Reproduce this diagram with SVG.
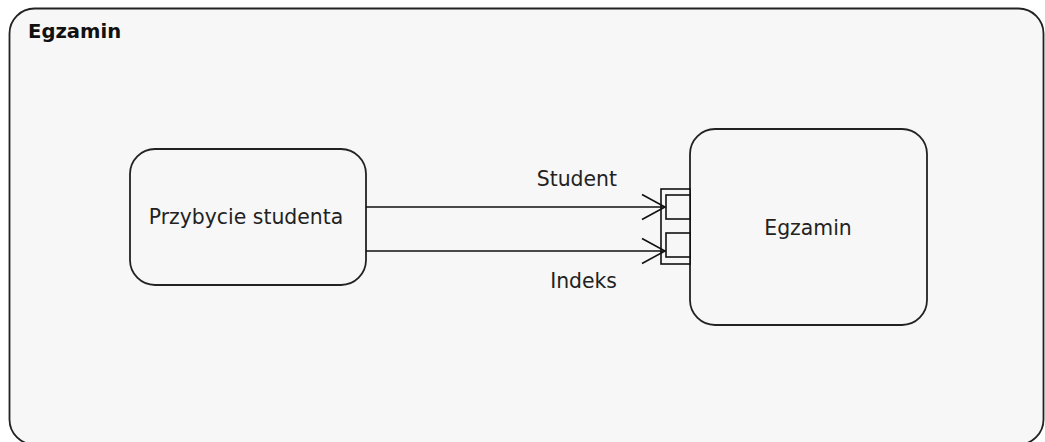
<svg xmlns="http://www.w3.org/2000/svg" width="1045" height="442" viewBox="0 0 1045 442">
  <style>
    .frame { fill: #f7f7f7; stroke: #222; stroke-width: 1.8; }
    .node { fill: #f7f7f7; stroke: #222; stroke-width: 1.8; }
    .port { fill: #f7f7f7; stroke: #111; stroke-width: 1.6; }
    .flow { fill: none; stroke: #111; stroke-width: 1.6; }
    .title { font-family: "DejaVu Sans", sans-serif; font-weight: bold; font-size: 19.6px; fill: #111; }
    .label { font-family: "DejaVu Sans", sans-serif; font-size: 20.4px; fill: #222; }
  </style>
  <defs>
    <marker id="openArrow" markerUnits="userSpaceOnUse" markerWidth="30" markerHeight="30" viewBox="-26 -15 30 30" refX="0" refY="0" orient="auto">
      <path d="M -23 -12.5 L 0 0 L -23 12.5" fill="none" stroke="#111" stroke-width="1.6"/>
    </marker>
  </defs>

  <rect width="1045" height="442" fill="#ffffff"/>

  <!-- activity frame -->
  <g id="frame">
    <rect class="frame" x="9.5" y="8.5" width="1034" height="436" rx="25" ry="25"/>
    <text class="title" x="28" y="38">Egzamin</text>
  </g>

  <!-- source action -->
  <g id="przybycie">
    <rect class="node" x="130" y="149" width="236" height="136" rx="25" ry="25"/>
    <text class="label" x="246" y="224" text-anchor="middle">Przybycie studenta</text>
  </g>

  <!-- target action with its input pins -->
  <g id="egzamin">
    <rect class="node" x="690" y="129" width="237" height="196" rx="25" ry="25"/>
    <text class="label" x="808" y="235" text-anchor="middle">Egzamin</text>
    <rect class="port" x="661" y="189" width="29" height="75"/>
    <rect class="port" x="666" y="195" width="24" height="24"/>
    <rect class="port" x="666" y="233" width="24" height="24"/>
  </g>

  <!-- object flows -->
  <g id="connectors">
    <line class="flow" x1="366" y1="207" x2="665" y2="207" marker-end="url(#openArrow)"/>
    <line class="flow" x1="366" y1="251" x2="665" y2="251" marker-end="url(#openArrow)"/>
    <text class="label" x="617" y="186" text-anchor="end">Student</text>
    <text class="label" x="617" y="288" text-anchor="end">Indeks</text>
  </g>
</svg>
